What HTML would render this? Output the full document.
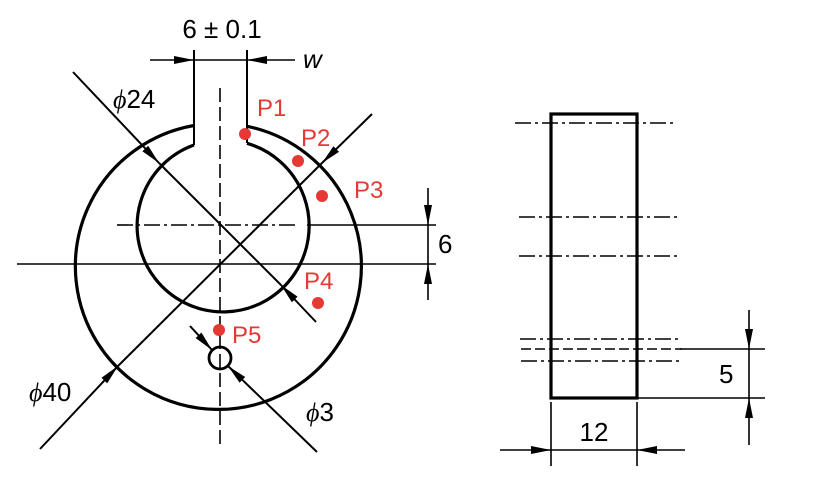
<!DOCTYPE html>
<html><head><style>html,body{margin:0;padding:0;background:#fff}svg{display:block}</style></head>
<body>
<svg width="827" height="499" viewBox="0 0 827 499" xmlns="http://www.w3.org/2000/svg" font-family="Liberation Sans, Arial, sans-serif">
<defs>
<marker id="a" viewBox="0 0 20 8" refX="20" refY="4" markerWidth="20" markerHeight="8" markerUnits="userSpaceOnUse" orient="auto"><path d="M0,0 L20,4 L0,8 Z" fill="#000"/></marker>
</defs>
<g stroke="#000" fill="none">
<path d="M194,125.5 A143,143 0 1 0 247,126.3" stroke-width="3.2"/>
<path d="M194,145 A86,86 0 1 0 247,143.3" stroke-width="3.2"/>
<line x1="194" y1="50" x2="194" y2="145" stroke-width="2"/>
<line x1="247" y1="50" x2="247" y2="143" stroke-width="2"/>
<line x1="220" y1="88" x2="220" y2="448" stroke-width="1.6" stroke-dasharray="14,5"/>
<line x1="117" y1="225" x2="298" y2="225" stroke-width="1.6" stroke-dasharray="16,4,3,4"/>
<line x1="307" y1="225" x2="436" y2="225" stroke-width="1.6"/>
<line x1="17" y1="264" x2="436" y2="264" stroke-width="1.6"/>
<line x1="428" y1="188" x2="428" y2="225" stroke-width="1.6" marker-end="url(#a)"/>
<line x1="428" y1="300" x2="428" y2="264" stroke-width="1.6" marker-end="url(#a)"/>
<line x1="428" y1="225" x2="428" y2="264" stroke-width="1.6"/>
<line x1="150" y1="60" x2="194" y2="60" stroke-width="1.6" marker-end="url(#a)"/>
<line x1="295" y1="60" x2="247" y2="60" stroke-width="1.6" marker-end="url(#a)"/>
<line x1="194" y1="60" x2="247" y2="60" stroke-width="1.6"/>
<line x1="73" y1="72" x2="159" y2="163" stroke-width="2" marker-end="url(#a)"/>
<line x1="316" y1="322" x2="281" y2="285" stroke-width="2" marker-end="url(#a)"/>
<line x1="159" y1="163" x2="281" y2="285" stroke-width="2"/>
<line x1="40" y1="449" x2="118" y2="366" stroke-width="2" marker-end="url(#a)"/>
<line x1="372" y1="114" x2="322" y2="163" stroke-width="2" marker-end="url(#a)"/>
<line x1="118" y1="366" x2="322" y2="163" stroke-width="2"/>
<circle cx="220" cy="358" r="11" stroke-width="2.8"/>
<line x1="190" y1="326" x2="212" y2="350" stroke-width="2" marker-end="url(#a)"/>
<line x1="317" y1="452" x2="228" y2="366" stroke-width="2" marker-end="url(#a)"/>
<rect x="551" y="114" width="86" height="284" stroke-width="3.2"/>
<g stroke-width="1.6" stroke-dasharray="16,4,3,4">
<line x1="515" y1="123" x2="677" y2="123"/>
<line x1="519" y1="217" x2="680" y2="217"/>
<line x1="519" y1="256" x2="680" y2="256"/>
<line x1="520" y1="339" x2="682" y2="339"/>
<line x1="521" y1="361" x2="682" y2="361"/>
</g>
<line x1="521" y1="349" x2="682" y2="349" stroke-width="1.6" stroke-dasharray="10,4"/>
<line x1="680" y1="349" x2="765" y2="349" stroke-width="1.6"/>
<line x1="637" y1="398" x2="765" y2="398" stroke-width="1.6"/>
<line x1="749" y1="310" x2="749" y2="349" stroke-width="1.6" marker-end="url(#a)"/>
<line x1="749" y1="445" x2="749" y2="398" stroke-width="1.6" marker-end="url(#a)"/>
<line x1="749" y1="349" x2="749" y2="398" stroke-width="1.6"/>
<line x1="551" y1="402" x2="551" y2="466" stroke-width="1.6"/>
<line x1="637" y1="402" x2="637" y2="466" stroke-width="1.6"/>
<line x1="500" y1="450" x2="551" y2="450" stroke-width="1.6" marker-end="url(#a)"/>
<line x1="685" y1="450" x2="637" y2="450" stroke-width="1.6" marker-end="url(#a)"/>
<line x1="551" y1="450" x2="637" y2="450" stroke-width="1.6"/>
</g>
<g fill="#e53935">
<circle cx="245" cy="134" r="6"/><circle cx="298" cy="161" r="6"/><circle cx="322" cy="196" r="6"/><circle cx="318" cy="303" r="6"/><circle cx="219" cy="330" r="6"/>
</g>
<g fill="#e53935" font-size="24">
<text x="257" y="116">P1</text><text x="301" y="146">P2</text><text x="354" y="198">P3</text><text x="304" y="289">P4</text><text x="232" y="343">P5</text>
</g>
<g fill="#000" font-size="26">
<text x="222" y="38" text-anchor="middle">6 ± 0.1</text>
<text x="303" y="68" font-style="italic">w</text>
<text x="113" y="108"><tspan font-family="Liberation Serif" font-style="italic">ϕ</tspan>24</text>
<text x="29" y="401"><tspan font-family="Liberation Serif" font-style="italic">ϕ</tspan>40</text>
<text x="306" y="421"><tspan font-family="Liberation Serif" font-style="italic">ϕ</tspan>3</text>
<text x="438" y="253">6</text>
<text x="719" y="383">5</text>
<text x="594" y="441" text-anchor="middle">12</text>
</g>
</svg>
</body></html>
